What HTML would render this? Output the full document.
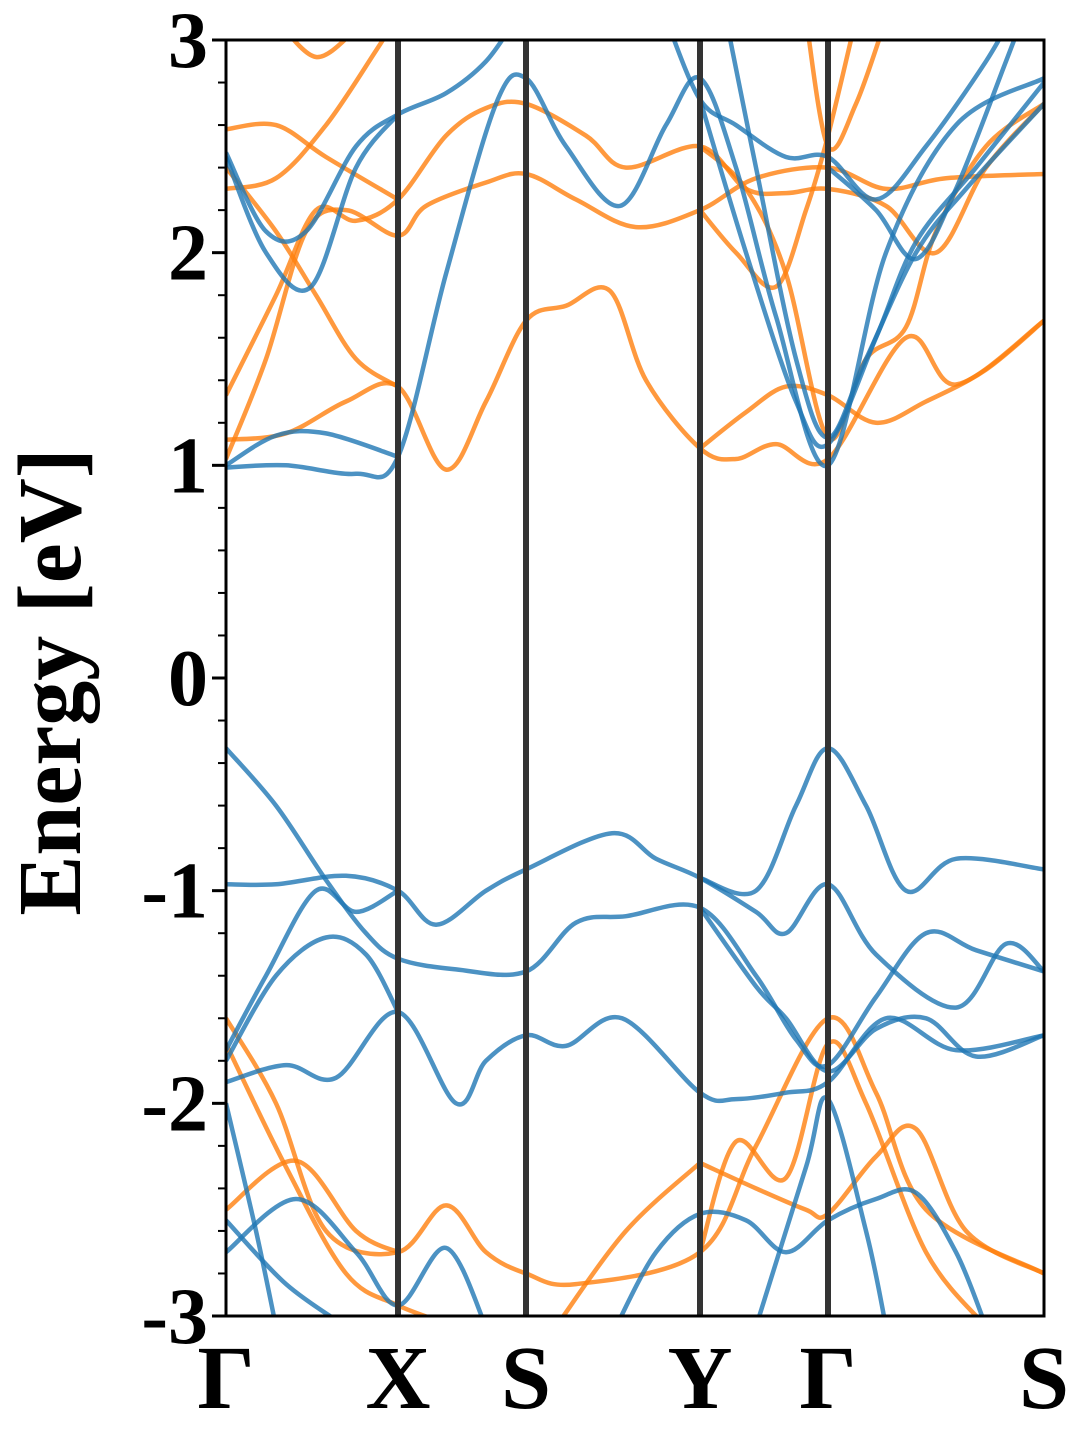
<!DOCTYPE html>
<html><head><meta charset="utf-8"><style>
html,body{margin:0;padding:0;background:#fff;}
svg{display:block;}
text{font-family:"Liberation Serif",serif;font-weight:bold;fill:#000;}
</style></head><body>
<svg id="chart" width="1080" height="1440" viewBox="0 0 1080 1440">
<defs><clipPath id="clip"><rect x="226" y="40" width="818" height="1276"/></clipPath></defs>
<g id="bands" clip-path="url(#clip)"></g>
<g id="vlines"></g>
<rect x="226" y="40" width="818" height="1276" fill="none" stroke="#000" stroke-width="3"/>
<g id="yaxis"></g>
<g id="xaxis"></g>
<text x="80" y="682" font-size="90" text-anchor="middle" transform="rotate(-90 80 682)">Energy [eV]</text>
</svg>
<script>
const kPoints=[0,1.72,3.00,4.74,6.02,8.18];
const kLabels=["Γ","X","S","Y","Γ","S"];
const yTicks=[-3,-2,-1,0,1,2,3];
const yTickLabels=["-3","-2","-1","0","1","2","3"];
const blueBands=[
[[0,0.99],[0.6,1.0],[1.3,0.96],[1.72,1.04],[2.2,1.9],[2.7,2.7],[3.0,2.82],[3.4,2.5],[3.94,2.22],[4.4,2.6],[4.74,2.82],[5.1,2.4],[5.5,1.7],[6.02,1.0],[6.6,2.0],[7.3,2.6],[8.18,2.82]],
[[0,1.0],[0.5,1.14],[1.0,1.15],[1.72,1.04]],
[[0,2.47],[0.4,2.1],[0.8,2.1],[1.3,2.5],[1.72,2.65],[2.2,2.75],[2.6,2.9],[2.9,3.1]],
[[0,2.45],[0.4,2.0],[0.85,1.84],[1.3,2.4],[1.72,2.65]],
[[4.4,3.1],[4.74,2.72],[5.1,2.6],[5.6,2.45],[6.02,2.45],[6.5,2.25],[7.0,2.5],[7.6,2.9],[7.9,3.15]],
[[4.74,2.72],[5.2,2.0],[5.7,1.3],[6.02,1.1],[6.5,1.6],[6.9,2.05],[7.5,2.4],[8.18,2.8]],
[[5.0,3.1],[5.3,2.4],[5.7,1.5],[6.02,1.13],[6.4,1.5],[6.9,2.0],[7.4,2.3],[8.18,2.7]],
[[6.02,2.4],[6.5,2.2],[6.9,1.97],[7.3,2.3],[7.8,2.9],[8.0,3.15]],
[[0,-0.33],[0.5,-0.6],[1.0,-0.95],[1.4,-1.2],[1.72,-1.32],[2.3,-1.37],[3.0,-1.38],[3.5,-1.15],[4.0,-1.12],[4.74,-1.08],[5.3,-1.4],[5.7,-1.7],[6.02,-1.82],[6.5,-1.5],[7.0,-1.2],[7.5,-1.28],[8.18,-1.38]],
[[0,-0.97],[0.5,-0.97],[1.2,-0.93],[1.72,-1.0],[2.1,-1.16],[2.6,-1.0],[3.0,-0.9],[3.86,-0.73],[4.3,-0.85],[4.74,-0.94],[5.3,-1.1],[5.6,-1.2],[6.02,-0.97],[6.5,-1.3],[7.3,-1.55],[7.8,-1.25],[8.18,-1.38]],
[[0,-1.75],[0.4,-1.4],[0.9,-1.0],[1.3,-1.1],[1.72,-1.0]],
[[0,-1.8],[0.5,-1.4],[1.0,-1.22],[1.4,-1.3],[1.72,-1.57]],
[[0,-1.9],[0.6,-1.82],[1.1,-1.88],[1.72,-1.57],[2.3,-2.0],[2.6,-1.8],[3.0,-1.68],[3.4,-1.73],[3.96,-1.6],[4.74,-1.95],[5.1,-1.98],[5.6,-1.95],[6.02,-1.9],[6.6,-1.6],[7.3,-1.75],[8.18,-1.68]],
[[4.74,-0.94],[5.3,-1.0],[5.7,-0.6],[6.02,-0.33],[6.4,-0.6],[6.8,-1.0],[7.3,-0.85],[8.18,-0.9]],
[[4.74,-1.08],[5.3,-1.45],[5.6,-1.6],[6.02,-1.85],[6.5,-1.65],[7.0,-1.6],[7.5,-1.78],[8.18,-1.68]],
[[0,-2.0],[0.3,-2.6],[0.5,-3.05]],
[[0,-2.55],[0.6,-2.85],[1.2,-3.05]],
[[0,-2.7],[0.7,-2.45],[1.3,-2.7],[1.72,-2.95],[2.2,-2.68],[2.6,-3.05]],
[[3.9,-3.05],[4.3,-2.7],[4.74,-2.52],[5.2,-2.55],[5.6,-2.7],[6.02,-2.55],[6.5,-2.45],[6.9,-2.42],[7.3,-2.7],[7.6,-3.05]],
[[5.3,-3.05],[5.8,-2.3],[6.02,-1.98],[6.4,-2.6],[6.6,-3.05]]
];
const orangeBands=[
[[0,1.12],[0.6,1.15],[1.2,1.3],[1.72,1.37],[2.2,0.98],[2.6,1.3],[3.0,1.68],[3.4,1.75],[3.84,1.82],[4.2,1.4],[4.74,1.08],[5.1,1.03],[5.5,1.1],[6.02,1.03],[6.8,1.6],[7.3,1.38],[8.18,1.68]],
[[4.74,1.08],[5.2,1.25],[5.6,1.37],[6.02,1.33],[6.5,1.2],[7.0,1.3],[7.6,1.45],[8.18,1.68]],
[[0,1.03],[0.4,1.5],[0.8,2.1],[1.2,2.2],[1.72,2.08],[2.0,2.22],[2.6,2.33],[3.0,2.37],[3.5,2.25],[4.1,2.12],[4.74,2.2],[5.3,2.35],[6.02,2.4],[6.6,2.3],[7.2,2.35],[8.18,2.37]],
[[0,1.33],[0.5,1.8],[0.9,2.2],[1.3,2.15],[1.72,2.25],[2.2,2.55],[2.6,2.68],[3.0,2.7],[3.6,2.55],[4.0,2.4],[4.74,2.5],[5.2,2.3],[5.6,2.28],[6.02,2.3],[6.6,2.22],[7.1,2.0],[7.6,2.4],[8.18,2.7]],
[[0,2.4],[0.5,2.1],[0.9,1.8],[1.3,1.5],[1.72,1.37]],
[[0,2.58],[0.5,2.6],[1.0,2.45],[1.72,2.25]],
[[0,2.3],[0.5,2.35],[1.0,2.6],[1.5,2.95],[1.7,3.1]],
[[0.5,3.1],[0.9,2.92],[1.3,3.05]],
[[4.74,2.2],[5.1,2.0],[5.5,1.84],[5.8,2.2],[6.02,2.55],[6.3,3.1]],
[[4.74,2.5],[5.2,2.3],[5.6,1.9],[6.02,1.13],[6.4,1.5],[6.8,1.65],[7.1,2.1],[7.6,2.5],[8.18,2.7]],
[[5.8,3.1],[6.02,2.5],[6.3,2.7],[6.6,3.1]],
[[0,-1.6],[0.5,-2.0],[1.0,-2.6],[1.72,-2.7],[2.2,-2.48],[2.6,-2.7],[3.0,-2.8],[3.5,-2.85],[4.74,-2.7],[5.3,-2.2],[6.02,-1.6],[6.5,-1.95],[7.0,-2.5],[8.18,-2.8]],
[[0,-1.72],[0.6,-2.3],[1.2,-2.8],[1.72,-2.95],[2.3,-3.05]],
[[0,-2.5],[0.7,-2.27],[1.3,-2.6],[1.72,-2.7]],
[[3.3,-3.05],[4.0,-2.6],[4.74,-2.28]],
[[4.74,-2.28],[5.3,-2.4],[5.8,-2.5],[6.02,-2.52],[6.5,-2.25],[6.9,-2.12],[7.4,-2.6],[8.18,-2.8]],
[[4.74,-2.7],[5.1,-2.18],[5.6,-2.35],[6.02,-1.72],[6.4,-2.0],[7.0,-2.7],[7.6,-3.05]]
];
const NS="http://www.w3.org/2000/svg";
const X0=226,X1=1044,Y0=1316,Y1=40,EMIN=-3,EMAX=3;
function xs(k){return X0+(k-kPoints[0])/(kPoints[kPoints.length-1]-kPoints[0])*(X1-X0);}
function ys(e){return Y0-(e-EMIN)/(EMAX-EMIN)*(Y0-Y1);}
function pathFor(pts){
  const p=pts.map(d=>[xs(d[0]),ys(d[1])]);
  let s="M"+p[0][0].toFixed(1)+","+p[0][1].toFixed(1);
  for(let i=0;i<p.length-1;i++){
    const a=p[Math.max(0,i-1)],b=p[i],c=p[i+1],d=p[Math.min(p.length-1,i+2)];
    const c1=[b[0]+(c[0]-a[0])/6,b[1]+(c[1]-a[1])/6],c2=[c[0]-(d[0]-b[0])/6,c[1]-(d[1]-b[1])/6];
    s+=" C"+c1[0].toFixed(1)+","+c1[1].toFixed(1)+" "+c2[0].toFixed(1)+","+c2[1].toFixed(1)+" "+c[0].toFixed(1)+","+c[1].toFixed(1);
  }
  return s;
}
const gB=document.getElementById("bands");
function drawSet(set,color,name){
  set.forEach((b,i)=>{
    const el=document.createElementNS(NS,"path");
    el.setAttribute("d",pathFor(b));
    el.setAttribute("fill","none");el.setAttribute("stroke",color);
    el.setAttribute("stroke-width","4.5");el.setAttribute("stroke-opacity","0.8");
    
    
    gB.appendChild(el);
  });
}
drawSet(orangeBands,"#ff7f0e","spin-down-band");
drawSet(blueBands,"#1f77b4","spin-up-band");
const gV=document.getElementById("vlines"),gX=document.getElementById("xaxis");
kPoints.forEach((k,i)=>{
  if(i>0&&i<kPoints.length-1){
    const l=document.createElementNS(NS,"line");
    l.setAttribute("x1",xs(k));l.setAttribute("x2",xs(k));l.setAttribute("y1",Y1);l.setAttribute("y2",Y0);
    l.setAttribute("stroke","#333");l.setAttribute("stroke-width","6");
    
    
    gV.appendChild(l);
  }
  const t=document.createElementNS(NS,"text");
  t.setAttribute("x",xs(k));t.setAttribute("y",1408);t.setAttribute("font-size","90");t.setAttribute("text-anchor","middle");
  t.textContent=kLabels[i];
  
  
  gX.appendChild(t);
});
const gY=document.getElementById("yaxis");
for(let i=0;i<=30;i++){
  const e=EMIN+i*0.2;
  const major=i%5===0;
  const l=document.createElementNS(NS,"line");
  l.setAttribute("x1",major?212:218);l.setAttribute("x2",226);
  l.setAttribute("y1",ys(e));l.setAttribute("y2",ys(e));
  l.setAttribute("stroke","#000");l.setAttribute("stroke-width",major?3:2);
  
  
  gY.appendChild(l);
}
yTicks.forEach((v,i)=>{
  const t=document.createElementNS(NS,"text");
  t.setAttribute("x",208);t.setAttribute("y",ys(v)+27);t.setAttribute("font-size","80");t.setAttribute("text-anchor","end");
  t.textContent=yTickLabels[i];
  
  
  gY.appendChild(t);
});
</script>
</body></html>
